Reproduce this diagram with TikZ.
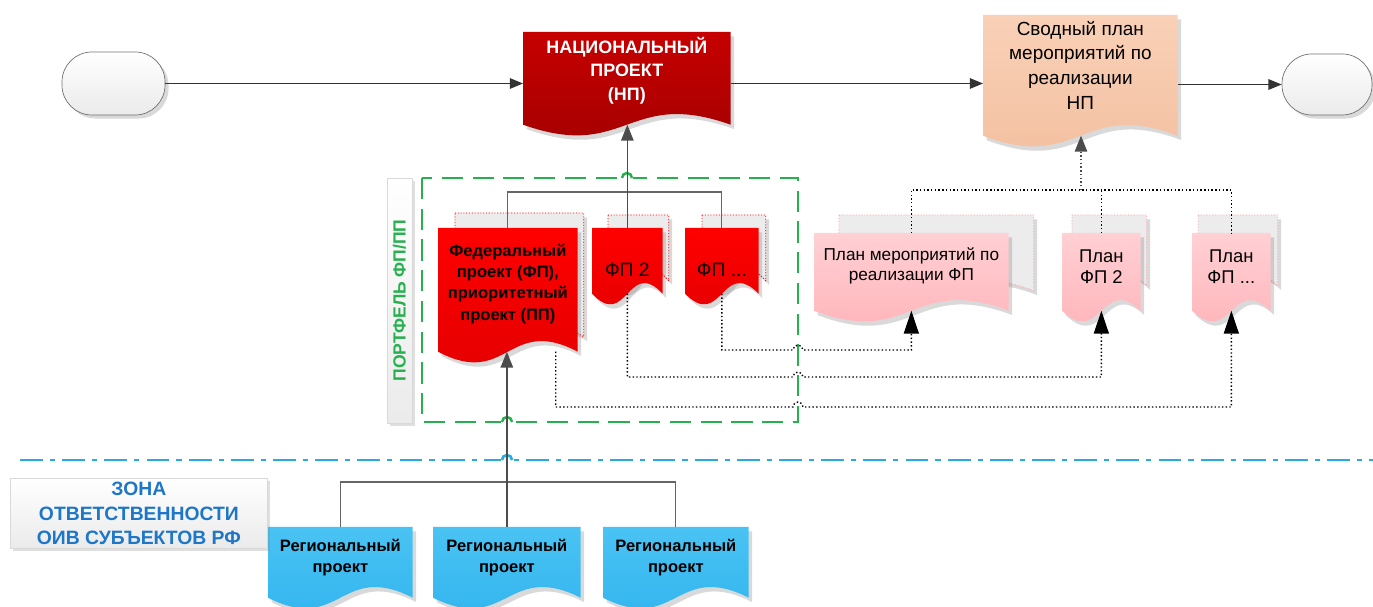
\documentclass[tikz,border=0pt]{standalone}
\usepackage{fontspec}
\setmainfont{Liberation Sans}
\usetikzlibrary{arrows.meta,shadows}

\definecolor{npred}{RGB}{198,0,0}
\definecolor{npdark}{RGB}{160,0,0}
\definecolor{fpred}{RGB}{255,0,0}
\definecolor{fpdark}{RGB}{226,0,0}
\definecolor{sumtop}{RGB}{249,209,183}
\definecolor{sumbot}{RGB}{243,190,158}
\definecolor{plantop}{RGB}{255,208,212}
\definecolor{planbot}{RGB}{255,176,182}
\definecolor{regtop}{RGB}{74,195,243}
\definecolor{regbot}{RGB}{46,179,238}
\definecolor{portgreen}{RGB}{38,176,78}
\definecolor{zoneblue}{RGB}{41,171,226}
\definecolor{zonetext}{RGB}{30,118,200}
\definecolor{backgray}{RGB}{236,236,236}

\pgfdeclarelayer{bg}
\pgfsetlayers{bg,main}

\newcommand{\pxu}{0.02cm}
% sheet with a wavy bottom edge, put behind the named node
\newcommand{\docsheet}[2]{%
  \begin{pgfonlayer}{bg}
    \path[#2] (#1.north west) -- (#1.north east) -- (#1.south east)
      .. controls ([yshift=21pt]#1.south) and ([yshift=-21pt]#1.south) .. (#1.south west) -- cycle;
  \end{pgfonlayer}}
% moves the lines of a sheet up or down without changing the sheet
\newcommand{\lift}[2]{\raisebox{#1}[\height][\depth]{\begin{tabular}{@{}c@{}}#2\end{tabular}}}

\begin{document}
\begin{tikzpicture}[x=0.02cm, y=-0.02cm,
  docu/.style={inner sep=0pt, anchor=north west, align=center},
  sheetshadow/.style={drop shadow={opacity=0.3, shadow xshift=2pt, shadow yshift=-2.5pt}},
  npsheet/.style={sheetshadow, top color=npred, bottom color=npdark},
  fpsheet/.style={sheetshadow, top color=fpred, bottom color=fpdark},
  sumsheet/.style={sheetshadow, top color=sumtop, bottom color=sumbot},
  plansheet/.style={sheetshadow, top color=plantop, bottom color=planbot},
  regsheet/.style={sheetshadow, top color=regtop, bottom color=regbot},
  fpback/.style={sheetshadow, fill=backgray, draw=red, line width=0.5pt, dash pattern=on 0.6pt off 1pt},
  planback/.style={sheetshadow, fill=backgray, draw=red!35, line width=0.5pt, dash pattern=on 0.6pt off 1pt},
  terminal/.style={draw=black!55, rounded corners=17pt, top color=white, bottom color=black!8,
    drop shadow={opacity=0.3, shadow xshift=2pt, shadow yshift=-2pt}},
  sidebox/.style={draw=black!15, top color=white, bottom color=black!8, inner sep=0pt, align=center,
    drop shadow={opacity=0.25, shadow xshift=1.5pt, shadow yshift=-1.5pt}},
  flow/.style={draw=black!80, line width=0.7pt, -{Triangle[length=7.5pt,width=6pt]}},
  uparrow/.style={draw=black!70, line width=0.9pt, -{Triangle[length=9pt,width=7pt]}},
  tree/.style={draw=black!60, line width=0.6pt},
  planlink/.style={draw=black, line width=0.8pt, dash pattern=on 0.8pt off 1.3pt},
  planarrow/.style={planlink, -{Triangle[length=13pt,width=8.5pt]}},
  portf/.style={draw=portgreen, line width=1.4pt, dash pattern=on 12pt off 5.5pt},
  zoneline/.style={draw=zoneblue, line width=1.5pt, dash pattern=on 13pt off 4pt on 3pt off 4pt}]
\useasboundingbox (0,0) rectangle (1373,607);

% start / end
\node[terminal, minimum width=103*\pxu, minimum height=63*\pxu] (startt) at (113.5,83.5) {};
\node[terminal, minimum width=90*\pxu, minimum height=61*\pxu] (endt) at (1327,84.5) {};

% national project and summary plan
\node[docu, minimum width=207*\pxu, minimum height=92*\pxu, text=white,
  font=\fontsize{10.2}{13.5}\selectfont\bfseries] (np) at (523,32) {\lift{3.5pt}{НАЦИОНАЛЬНЫЙ\\ПРОЕКТ\\(НП)}};
\docsheet{np}{npsheet}
\node[docu, minimum width=194*\pxu, minimum height=120*\pxu,
  font=\fontsize{10.8}{14.2}\selectfont] (sumplan) at (983,15) {\lift{4.5pt}{Сводный план\\мероприятий по\\реализации\\НП}};
\docsheet{sumplan}{sumsheet}

% portfolio
\node[sidebox, rotate=90, minimum width=245*\pxu, minimum height=25*\pxu, text=portgreen,
  font=\fontsize{10}{12}\selectfont\bfseries] (portlbl) at (399.5,300.5) {ПОРТФЕЛЬ ФП/ПП};
\draw[portf] (422,178) rectangle (798,422);
\fill[white] (621,174) rectangle (633,181);
\draw[portf, solid] (622,178) arc (180:360:5);
\fill[white] (501,419) rectangle (513,425);
\draw[portf, solid] (502,422) arc (180:360:5);

\node[docu, minimum width=128*\pxu, minimum height=123*\pxu] (fedbk) at (455,213) {};
\docsheet{fedbk}{fpback}
\node[docu, minimum width=139*\pxu, minimum height=123*\pxu,
  font=\fontsize{9.4}{12.2}\selectfont\bfseries] (fed) at (438,228) {\lift{3.4pt}{Федеральный\\проект (ФП),\\приоритетный\\проект (ПП)}};
\docsheet{fed}{fpsheet}
\node[docu, minimum width=60*\pxu, minimum height=65*\pxu] (fp2bk) at (608,215) {};
\docsheet{fp2bk}{fpback}
\node[docu, minimum width=70*\pxu, minimum height=65*\pxu,
  font=\fontsize{11}{13}\selectfont] (fp2) at (592,228) {\lift{-6.5pt}{ФП 2}};
\docsheet{fp2}{fpsheet}
\node[docu, minimum width=63*\pxu, minimum height=65*\pxu] (fpxbk) at (702,215) {};
\docsheet{fpxbk}{fpback}
\node[docu, minimum width=73*\pxu, minimum height=65*\pxu,
  font=\fontsize{11}{13}\selectfont] (fpx) at (685,228) {\lift{-6.5pt}{ФП ...}};
\docsheet{fpx}{fpsheet}

% plans
\node[docu, minimum width=194*\pxu, minimum height=75*\pxu] (plan1bk) at (839,215) {};
\docsheet{plan1bk}{planback}
\node[docu, minimum width=194*\pxu, minimum height=77*\pxu,
  font=\fontsize{9.8}{11.4}\selectfont] (plan1) at (814,233) {\lift{3pt}{План мероприятий по\\реализации ФП}};
\docsheet{plan1}{plansheet}
\node[docu, minimum width=74*\pxu, minimum height=70*\pxu] (plan2bk) at (1072,215) {};
\docsheet{plan2bk}{planback}
\node[docu, minimum width=78*\pxu, minimum height=77*\pxu,
  font=\fontsize{10.5}{12}\selectfont] (plan2) at (1062,233) {\lift{1.5pt}{План\\ФП 2}};
\docsheet{plan2}{plansheet}
\node[docu, minimum width=79*\pxu, minimum height=70*\pxu] (plan3bk) at (1198,215) {};
\docsheet{plan3bk}{planback}
\node[docu, minimum width=78*\pxu, minimum height=77*\pxu,
  font=\fontsize{10.5}{12}\selectfont] (plan3) at (1192,233) {\lift{1.5pt}{План\\ФП ...}};
\docsheet{plan3}{plansheet}

% regional zone
\draw[zoneline] (20,460) -- (1373,460);
\fill[white] (501,456) rectangle (513,463);
\draw[zoneline, solid] (502,460) arc (180:360:5);
\node[sidebox, anchor=north west, minimum width=257*\pxu, minimum height=70*\pxu, text=zonetext,
  font=\fontsize{11}{14}\selectfont\bfseries] (zone) at (10,478) {ЗОНА\\ОТВЕТСТВЕННОСТИ\\ОИВ СУБЪЕКТОВ РФ};
\node[docu, minimum width=144*\pxu, minimum height=70*\pxu,
  font=\fontsize{9.4}{12}\selectfont\bfseries] (reg1) at (268,527) {\lift{2.5pt}{Региональный\\проект}};
\docsheet{reg1}{regsheet}
\node[docu, minimum width=147*\pxu, minimum height=70*\pxu,
  font=\fontsize{9.4}{12}\selectfont\bfseries] (reg2) at (433,527) {\lift{2.5pt}{Региональный\\проект}};
\docsheet{reg2}{regsheet}
\node[docu, minimum width=145*\pxu, minimum height=70*\pxu,
  font=\fontsize{9.4}{12}\selectfont\bfseries] (reg3) at (603,527) {\lift{2.5pt}{Региональный\\проект}};
\docsheet{reg3}{regsheet}

% connectors
\draw[flow] (startt.east) -- (startt.east -| np.west);
\draw[flow] (startt.east -| np.east) -- (startt.east -| sumplan.west);
\draw[flow] (sumplan.east |- endt.west) -- (endt.west);

\coordinate (fpbus) at (627,192);
\draw[tree] (fed.north) |- (fpbus) -| (fpx.north);
\draw[uparrow] (fp2.north) -- (fp2.north |- np.south);

\coordinate (regbus) at (507,482);
\draw[tree] (reg1.north) |- (regbus) -| (reg3.north);
\draw[uparrow] (reg2.north) -- (reg2.north |- fed.south);

\coordinate (planbus) at (1081,190);
\draw[planlink] (plan1.north) |- (planbus) -| (plan3.north);
\draw[planlink] (plan2.north) -- (plan2.north |- planbus);
\draw[planlink, draw=black!70, -{Triangle[length=9pt,width=7pt]}] (planbus) -- (planbus |- sumplan.south);

\draw[planarrow] ([xshift=-0.44cm]fed.south east) |- (793,407) arc (180:360:5) -| (plan3.south);
\draw[planarrow] (fp2.south) |- (793,377) arc (180:360:5) -| (plan2.south);
\draw[planarrow] (fpx.south) |- (793,350) arc (180:360:5) -| (plan1.south);
\end{tikzpicture}
\end{document}
